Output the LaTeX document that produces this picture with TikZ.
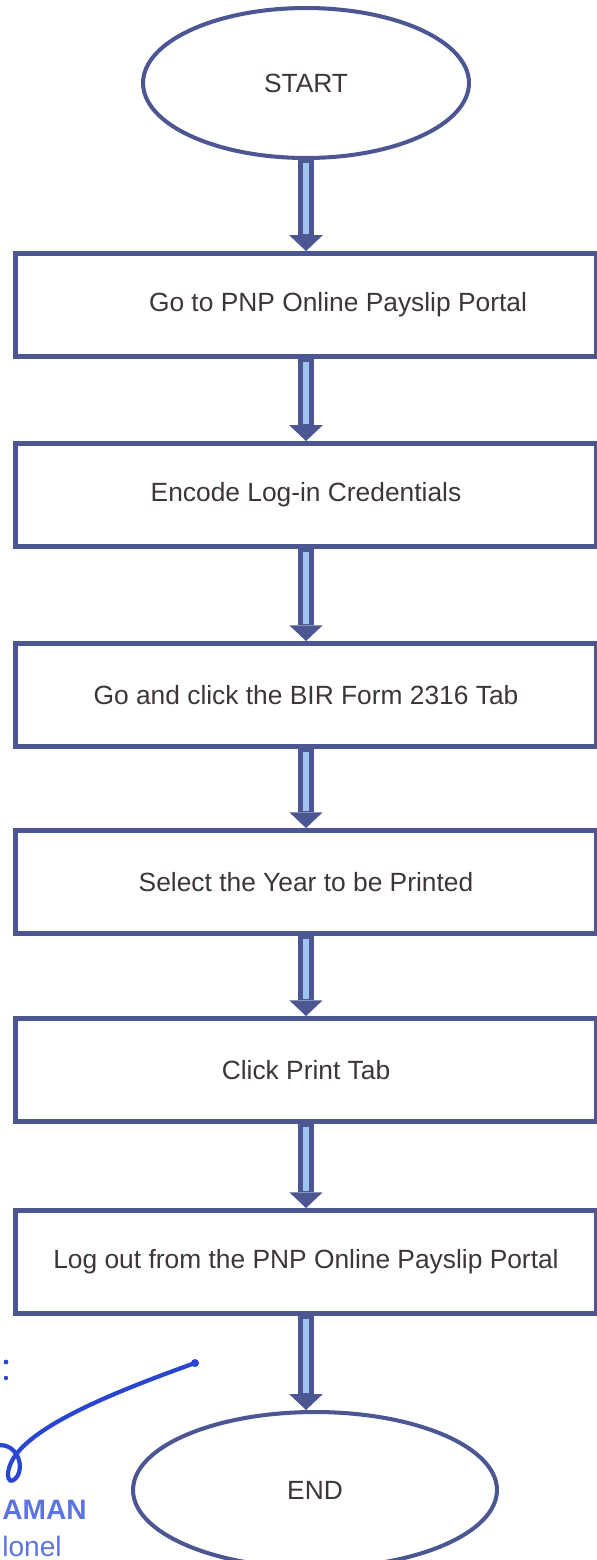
\documentclass[tikz,border=0pt]{standalone}
\usepackage{fontspec}
\setmainfont{Liberation Sans}
\usetikzlibrary{shapes,arrows.meta}
\definecolor{edgeblue}{RGB}{76,86,146}
\definecolor{lightblue}{RGB}{160,196,240}
\definecolor{inkgray}{RGB}{62,54,54}
\definecolor{penblue}{RGB}{40,70,210}
\definecolor{stampblue}{RGB}{92,116,226}
\tikzstyle{term}=[ellipse,draw=edgeblue,line width=2.3pt,text=inkgray,font=\fontsize{15}{18}\selectfont]
\tikzstyle{stp}=[rectangle,draw=edgeblue,line width=2.8pt,minimum width=11.64cm,minimum height=2.06cm,text=inkgray,font=\fontsize{15}{18}\selectfont]
\tikzstyle{flw}=[draw=edgeblue,line width=9.5pt,-{Triangle[width=19pt,length=9pt,line width=0pt]}]
\tikzstyle{flwin}=[draw=lightblue,line width=3.2pt,shorten >=9.5pt,shorten <=1.5pt]
\tikzstyle{stamp}=[text=stampblue,inner sep=0pt,anchor=west,font=\fontsize{16}{19}\selectfont]

\begin{document}
\begin{tikzpicture}[x=0.02cm,y=-0.02cm]
\useasboundingbox (0,0) rectangle (597,1560);
\node[term,minimum width=6.52cm,minimum height=3cm] (start) at (306,83) {START};
\node[stp] (portal) at (306,305) {\hspace*{1.28cm}Go to PNP Online Payslip Portal};
\node[stp] (encode) at (306,495) {Encode Log-in Credentials};
\node[stp] (bir) at (306,695) {Go and click the BIR Form 2316 Tab};
\node[stp] (year) at (306,882) {Select the Year to be Printed};
\node[stp] (print) at (306,1070) {Click Print Tab};
\node[stp] (logout) at (306,1262) {Log out from the PNP Online Payslip Portal};
\node[term,minimum width=7.28cm,minimum height=3.12cm] (fin) at (315,1490) {END};

% arrows
\foreach \a/\b in {start/portal,portal/encode,encode/bir,bir/year,year/print,print/logout}{
  \draw[flw] (\a) -- (\b);
  \draw[flwin] (\a) -- (\b);
}
\draw[flw] (logout.south) -- (logout.south |- fin.north);
\draw[flwin] (logout.south) -- (logout.south |- fin.north);

% signature
\fill[penblue] (6,1362) circle (2.4);
\fill[penblue] (6,1378) circle (2.2);
\coordinate (pen) at (195,1363);
\fill[penblue] (pen) circle (4);
\draw[penblue,line width=2.4pt,line cap=round] (pen) .. controls (120,1390) and (45,1420) .. (18,1452)
  .. controls (4,1468) and (6,1488) .. (16,1478) .. controls (26,1466) and (16,1440) .. (-6,1446);
\node[stamp,font=\fontsize{16}{19}\selectfont\bfseries] (rank) at (2,1510) {AMAN};
\node[stamp] (title) at (2,1546) {lonel};
\end{tikzpicture}
\end{document}
